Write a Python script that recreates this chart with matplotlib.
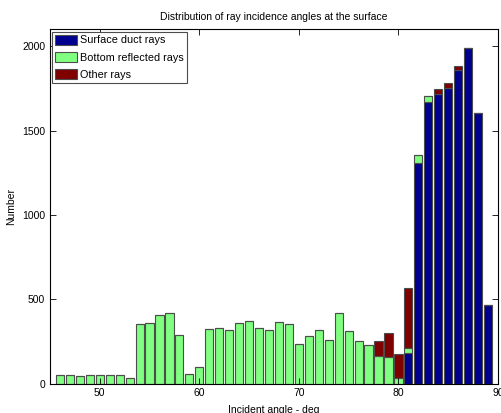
import matplotlib
matplotlib.use("Agg")
import matplotlib.pyplot as plt
import numpy as np

plt.rcParams['font.family'] = ['Liberation Sans', 'DejaVu Sans']

angles = np.arange(46, 90)

# counts per 1-degree bin
surface_duct = [0] * 35 + [180, 1308, 1667, 1720, 1752, 1858, 1992, 1607, 463]
bottom_refl = [48, 48, 46, 50, 50, 48, 48, 32, 352, 356, 405, 417, 285, 56, 97,
               326, 332, 320, 356, 370, 328, 318, 362, 354, 232, 283, 320, 261,
               421, 309, 253, 226, 166, 158, 30, 33, 45, 36, 0, 0, 0, 0, 0, 0]
other = [0] * 32 + [87, 143, 146, 352, 0, 0, 28, 28, 24, 0, 0, 0]

labels = ['Surface duct rays', 'Bottom reflected rays', 'Other rays']
colors = ['#00008f', '#80ff80', '#800000']

surface_duct = np.array(surface_duct)
bottom_refl = np.array(bottom_refl)
other = np.array(other)

fig = plt.figure(figsize=(5.02, 4.13), dpi=100)
ax = fig.add_axes([0.0996, 0.0714, 0.8924, 0.8572])

w = 0.82
ec = '0.3'
ax.bar(angles, surface_duct, w, color=colors[0], edgecolor=ec, lw=0.8, label=labels[0])
ax.bar(angles, bottom_refl, w, bottom=surface_duct, color=colors[1], edgecolor=ec, lw=0.8,
       label=labels[1])
ax.bar(angles, other, w, bottom=surface_duct + bottom_refl, color=colors[2], edgecolor=ec,
       lw=0.8, label=labels[2])

ax.set_xlim(45, 90)
ax.set_ylim(0, 2100)
ax.set_xticks([50, 60, 70, 80, 90])
ax.set_yticks([0, 500, 1000, 1500, 2000])
ax.tick_params(direction='in', top=True, right=True, labelsize=7.5, length=4, width=0.6)
for s in ax.spines.values():
    s.set_linewidth(0.8)

ax.set_title('Distribution of ray incidence angles at the surface', fontsize=7.5, pad=6.5)
ax.set_xlabel('Incident angle - deg', fontsize=7.5, labelpad=4.5)
ax.set_ylabel('Number', fontsize=7.5, labelpad=4)

leg = ax.legend(loc='upper left', fontsize=7.8, fancybox=False, framealpha=1,
                edgecolor='0.3', borderaxespad=0.2, handlelength=2.0, handleheight=1.0,
                labelspacing=0.6, borderpad=0.3, handletextpad=0.25)
leg.get_frame().set_linewidth(0.8)

fig.savefig('out.png', dpi=100)
